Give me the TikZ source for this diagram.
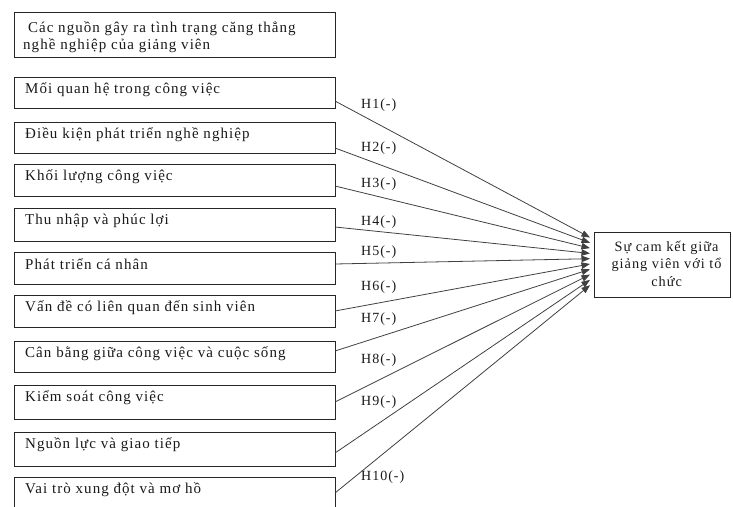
\documentclass[tikz,border=0pt]{standalone}
\usepackage{fontspec}
\setmainfont{Liberation Serif}
\newfontfamily\spfont[LetterSpace=7]{Liberation Serif}
\usetikzlibrary{calc,arrows.meta}
\begin{document}
\begin{tikzpicture}[x=1pt,y=-1pt,
  boxst/.style={draw=black!85,line width=1.1pt,rectangle,inner sep=0pt,anchor=north west,minimum width=321pt},
  txt/.style={inner sep=0pt,anchor=west,font=\spfont\fontsize{15}{17.5}\selectfont,text=black!90},
  lbl/.style={inner sep=0pt,anchor=west,font=\spfont\fontsize{14}{16}\selectfont,text=black!90},
  conn/.style={draw=black!75,line width=0.8pt,-{Triangle[length=8.5pt,width=6.5pt]}}]
\useasboundingbox (0,0) rectangle (733,506);
% title box
\node[boxst,minimum height=45pt] (tb) at (14,12) {};
\node[txt,anchor=north west,align=left] (tt) at (23,21) {\ Các nguồn gây ra tình trạng căng thẳng\\nghề nghiệp của giảng viên};
% factor boxes
\foreach \i/\top/\h/\t in {
  1/77/31/Mối quan hệ trong công việc,
  2/122/31/Điều kiện phát triển nghề nghiệp,
  3/164/32/Khối lượng công việc,
  4/208/33/Thu nhập và phúc lợi,
  5/252/32/Phát triển cá nhân,
  6/295/32/Vấn đề có liên  quan đến sinh viên,
  7/341/31/Cân bằng giữa công việc và cuộc sống,
  8/385/34/Kiểm soát công việc,
  9/432/34/Nguồn lực và giao tiếp,
  10/477/34/Vai trò xung đột và mơ hồ}{
  \node[boxst,minimum height=\h pt] (b\i) at (14,\top) {};
  \node[txt] (t\i) at ($(b\i.north west)+(11,12.5)$) {\t};
}
% target box
\node[draw=black!85,line width=1.1pt,rectangle,inner sep=0pt,minimum width=136pt,minimum height=65pt,anchor=north west] (c) at (594,231.5) {};
\node[txt,align=center,anchor=center,font=\spfont\fontsize{14.3}{17.5}\selectfont] (ct) at ($(c.center)+(4,-1)$) {Sự cam kết giữa\\giảng viên với tổ\\chức};
% start and end coordinates
\foreach \i/\sy in {1/101,2/148,3/186,4/227,5/264,6/311,7/351,8/402,9/453,10/493}{
  \coordinate (s\i) at (335,\sy);
}
\foreach \i in {1,...,10}{
  \coordinate (e\i) at ($(c.north west)+(-4,{6+(\i-1)*5.3})$);
  \draw[conn] (s\i) -- (e\i);
}
% labels
\foreach \i/\ly in {1/105,2/148,3/184,4/222,5/252,6/287,7/319,8/360,9/402,10/477}{
  \node[lbl] (h\i) at (361,\ly) {H\i(-)};
}
\end{tikzpicture}
\end{document}
